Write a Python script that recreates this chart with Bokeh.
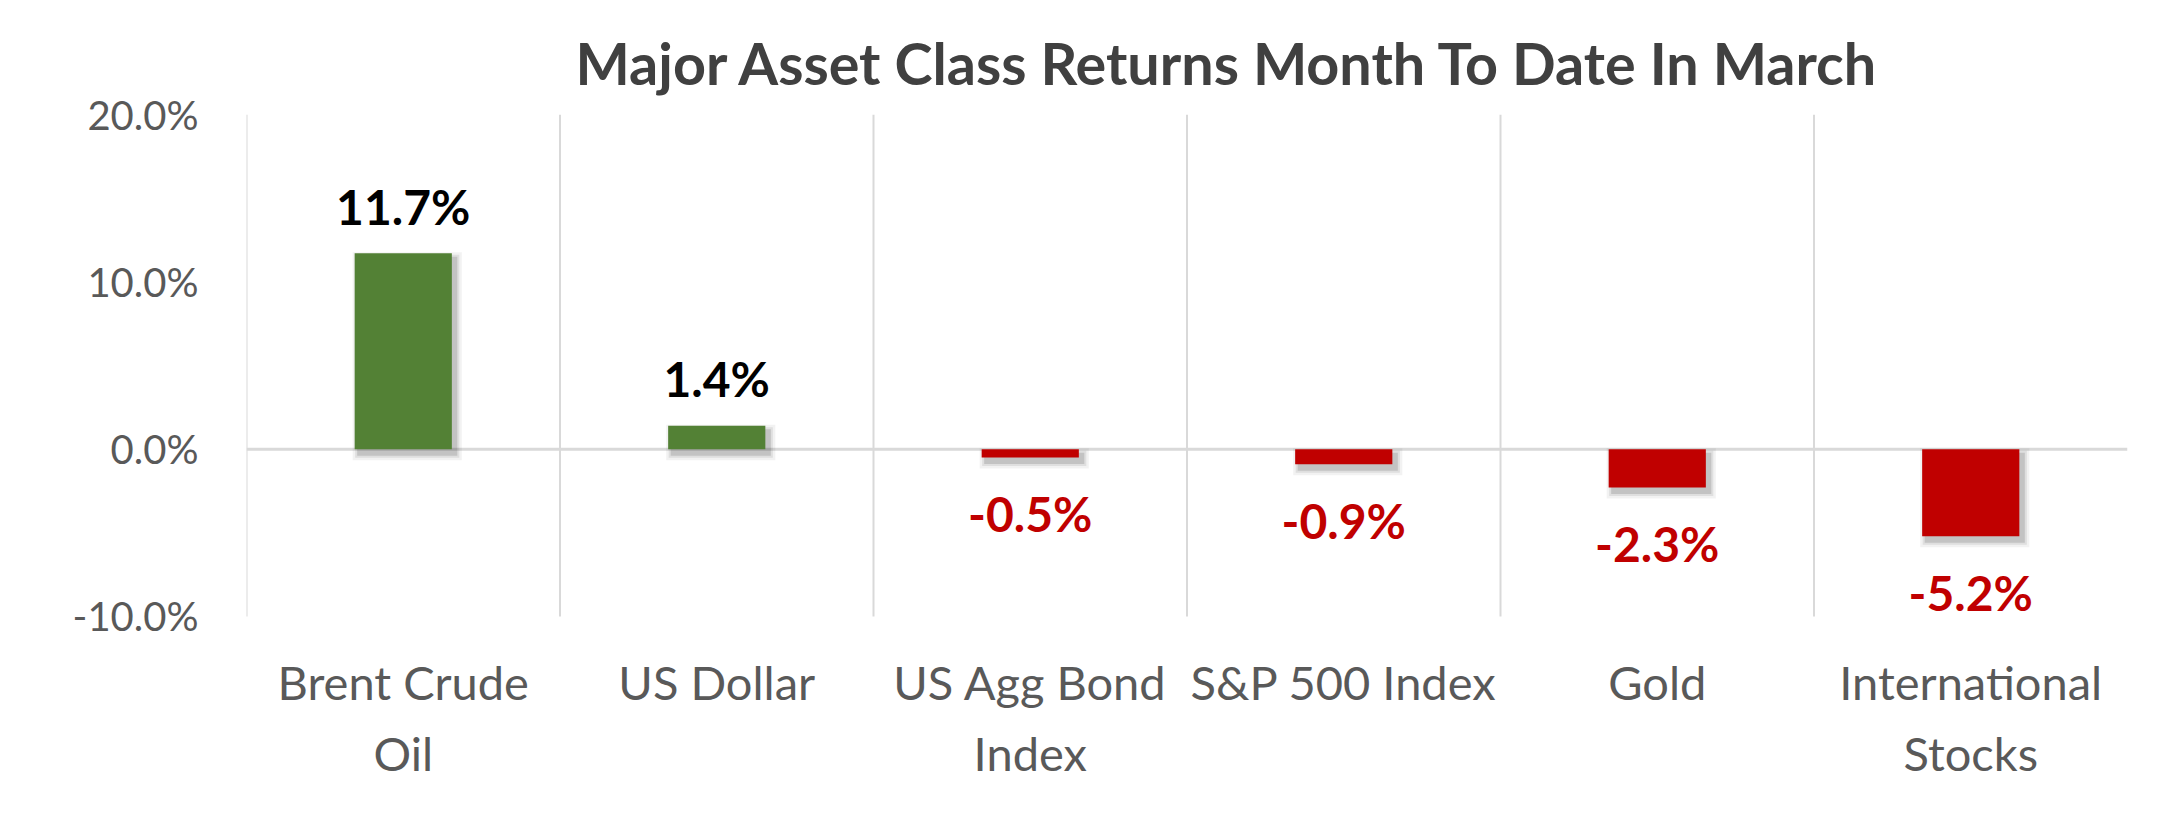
from bokeh.plotting import figure
from bokeh.models import (ColumnDataSource, FactorRange, Range1d, FixedTicker,
                          PrintfTickFormatter, Span, LabelSet)
from bokeh.transform import dodge
from bokeh.core.properties import value
from bokeh.embed import file_html
from bokeh.resources import INLINE

# ---- data ----
categories = ["Brent Crude Oil", "US Dollar", "US Agg Bond Index",
              "S&P 500 Index", "Gold", "International Stocks"]
label_line1 = ["Brent Crude", "US Dollar", "US Agg Bond",
               "S&P 500 Index", "Gold", "International"]
label_line2 = ["Oil", "", "Index", "", "", "Stocks"]
returns = [11.7, 1.4, -0.5, -0.9, -2.3, -5.2]
y_ticks = [-10, 0, 10, 20]
title_text = "Major Asset Class Returns Month To Date In March"

GREEN = "#538135"
RED = "#C00000"
FONT = "Lato"

W, H = 2146, 810
PX_PER_UNIT = 502 / 30.0          # vertical scale of the value axis
TOP_BORDER = 114
Y_MIN_VIEW = -21                  # extra room below -10% for category labels
frame_h = (y_ticks[-1] - Y_MIN_VIEW) * PX_PER_UNIT
p = figure(x_range=FactorRange(*categories), y_range=Range1d(Y_MIN_VIEW, y_ticks[-1]),
           width=W, height=H, output_backend="svg", toolbar_location=None,
           min_border_left=246, min_border_right=19,
           min_border_top=TOP_BORDER, min_border_bottom=int(round(H - TOP_BORDER - frame_h)))
p.outline_line_color = None
p.background_fill_color = "white"
p.border_fill_color = "white"

# title
p.title.text = title_text
p.title.align = "left"
p.title.offset = 329
p.title.text_font = FONT
p.title.text_font_size = "57.5px"
p.title.text_font_style = "bold"
p.title.text_color = "#404040"
p.title.standoff = 35

# grids off; draw category boundary lines
p.xgrid.grid_line_color = None
p.ygrid.grid_line_color = None

src_grid = ColumnDataSource(dict(cat=categories,
                                 y0=[y_ticks[0]] * len(categories),
                                 y1=[y_ticks[-1]] * len(categories)))
p.segment(x0=dodge("cat", -0.5, range=p.x_range), x1=dodge("cat", -0.5, range=p.x_range),
          y0="y0", y1="y1", source=src_grid, line_color="#D9D9D9", line_width=2)

p.add_layout(Span(location=0, dimension="width", line_color="#D9D9D9",
                  line_width=3, level="underlay"))

# shadows (soft, offset down-right)
px_per_cat = 1881 / 6.0
bar_w = 0.31
dy = 5 / PX_PER_UNIT
for grow, alpha in [(12, 0.05), (7, 0.08), (3, 0.12)]:
    g = grow / PX_PER_UNIT
    tops = [max(v, 0) - dy + g / 2 for v in returns]
    bots = [min(v, 0) - dy - g / 2 for v in returns]
    s = ColumnDataSource(dict(cat=categories, top=tops, bottom=bots))
    p.vbar(x=dodge("cat", 4 / px_per_cat, range=p.x_range), top="top", bottom="bottom",
           width=bar_w + grow / px_per_cat, source=s, fill_color="black",
           fill_alpha=alpha, line_color=None)

# bars
bar_colors = [GREEN if v >= 0 else RED for v in returns]
label_colors = ["#000000" if v >= 0 else RED for v in returns]
labels = [f"{v:.1f}%" for v in returns]
offsets = [47 if v >= 0 else -56 for v in returns]
src = ColumnDataSource(dict(cat=categories, val=returns, color=bar_colors,
                            lcolor=label_colors, label=labels, off=offsets,
                            l1=label_line1, l2=label_line2,
                            ybot=[y_ticks[0]] * len(categories)))
p.vbar(x="cat", top="val", bottom=0, width=bar_w, source=src,
       fill_color="color", line_color=None)

p.add_layout(LabelSet(x="cat", y="val", text="label", source=src,
                      y_offset="off", text_align="center", text_baseline="middle",
                      text_font=value(FONT), text_font_size=value("48px"),
                      text_font_style=value("bold"), text_color="lcolor"))

# category labels (two lines)
for col, off in [("l1", -38), ("l2", -109)]:
    p.add_layout(LabelSet(x="cat", y="ybot", text=col, source=src,
                          y_offset=off, text_align="center", text_baseline="top",
                          text_font=value(FONT), text_font_size=value("47px"),
                          text_color=value("#595959")))

# axes
p.yaxis.ticker = FixedTicker(ticks=y_ticks)
p.yaxis.formatter = PrintfTickFormatter(format="%.1f%%")
p.yaxis.axis_line_color = None
p.yaxis.major_tick_line_color = None
p.yaxis.minor_tick_line_color = None
p.yaxis.major_label_standoff = 42
p.yaxis.major_label_text_font = FONT
p.yaxis.major_label_text_font_size = "40px"
p.yaxis.major_label_text_color = "#595959"

p.xaxis.visible = False

open("out.html", "w").write(file_html(p, INLINE))
